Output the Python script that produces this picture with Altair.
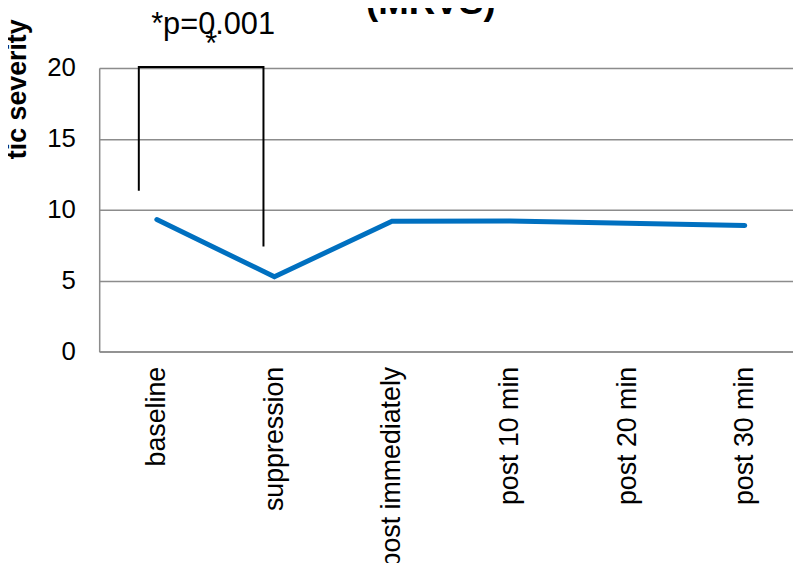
import altair as alt
import pandas as pd

categories = ["baseline", "suppression", "post immediately", "post 10 min", "post 20 min", "post 30 min"]
severity = [9.3, 5.27, 9.18, 9.2, 9.04, 8.88]

# significance bracket (x in category-index units, y in severity units)
bracket_x = [-0.153, -0.153, 0.907, 0.907]
bracket_y = [11.33, 20.07, 20.07, 7.41]

pval_text = ["*p=0.001"]
pval_x = [-0.048]
pval_y = [22.4]

star_text = ["*"]
star_x = [0.463]
star_y = [20.98]

# chart title (only its lower part is visible in the reference)
title_text = ["(MRVS)"]
title_x = [2.33]
title_y = [23.78]

y_ticks = [0, 5, 10, 15, 20]

FONT = "Liberation Sans"

df = pd.DataFrame({"x": list(range(len(categories))), "cat": categories, "y": severity})
br = pd.DataFrame({"x": bracket_x, "y": bracket_y, "o": list(range(len(bracket_x)))})
pv = pd.DataFrame({"t": pval_text, "x": pval_x, "y": pval_y})
st = pd.DataFrame({"t": star_text, "x": star_x, "y": star_y})
tt = pd.DataFrame({"t": title_text, "x": title_x, "y": title_y})

xscale = alt.Scale(domain=[-0.49, 5.41], zero=False, nice=False)
yscale = alt.Scale(domain=[0, 20], zero=True, nice=False)

label_expr = "[" + ",".join(f"'{c}'" for c in categories) + "][datum.value]"

xaxis = alt.Axis(
    values=list(range(len(categories))), labelExpr=label_expr, labelAngle=-90,
    labelFontSize=27, labelFont=FONT, labelColor="black", labelPadding=15,
    labelLimit=0, ticks=False, grid=False, domainColor="#8c8c8c", domainWidth=1.5,
    title=None, labelOverlap=False)
yaxis = alt.Axis(
    values=y_ticks, labelFontSize=26, labelFont=FONT, labelColor="black", labelPadding=24,
    ticks=False, grid=True, gridColor="#8c8c8c", gridWidth=1.5,
    domainColor="#8c8c8c", domainWidth=1.5,
    title="tic severity", titleFontSize=27, titleFont=FONT, titleFontWeight="bold",
    titleColor="black", titleAngle=-90, titleX=-68, titleY=21, titleAlign="center",
    titleBaseline="bottom")

X = alt.X("x:Q", scale=xscale, axis=xaxis)
Y = alt.Y("y:Q", scale=yscale, axis=yaxis)

line = alt.Chart(df).mark_line(color="#0070C0", strokeWidth=5, strokeCap="round").encode(x=X, y=Y)

bracket = alt.Chart(br).mark_line(color="black", strokeWidth=2).encode(x=X, y=Y, order="o:Q")

pval = alt.Chart(pv).mark_text(fontSize=31, font=FONT, color="black", baseline="alphabetic",
                               align="left").encode(x=X, y=Y, text="t:N")

star = alt.Chart(st).mark_text(fontSize=31, font=FONT, color="black", baseline="alphabetic",
                               align="center").encode(x=X, y=Y, text="t:N")

title = alt.Chart(tt).mark_text(fontSize=37, font=FONT, fontWeight="bold", color="black",
                                baseline="alphabetic", align="center").encode(x=X, y=Y, text="t:N")

chart = alt.layer(line, bracket, pval, star, title).properties(
    width=700, height=286,
    autosize=alt.AutoSizeParams(type="none"),
    padding={"left": 92, "top": 58, "right": 0, "bottom": 211},
).configure_view(strokeWidth=0).configure(background="white")

chart.save("out.html", embed_options={"renderer": "svg", "actions": False})
